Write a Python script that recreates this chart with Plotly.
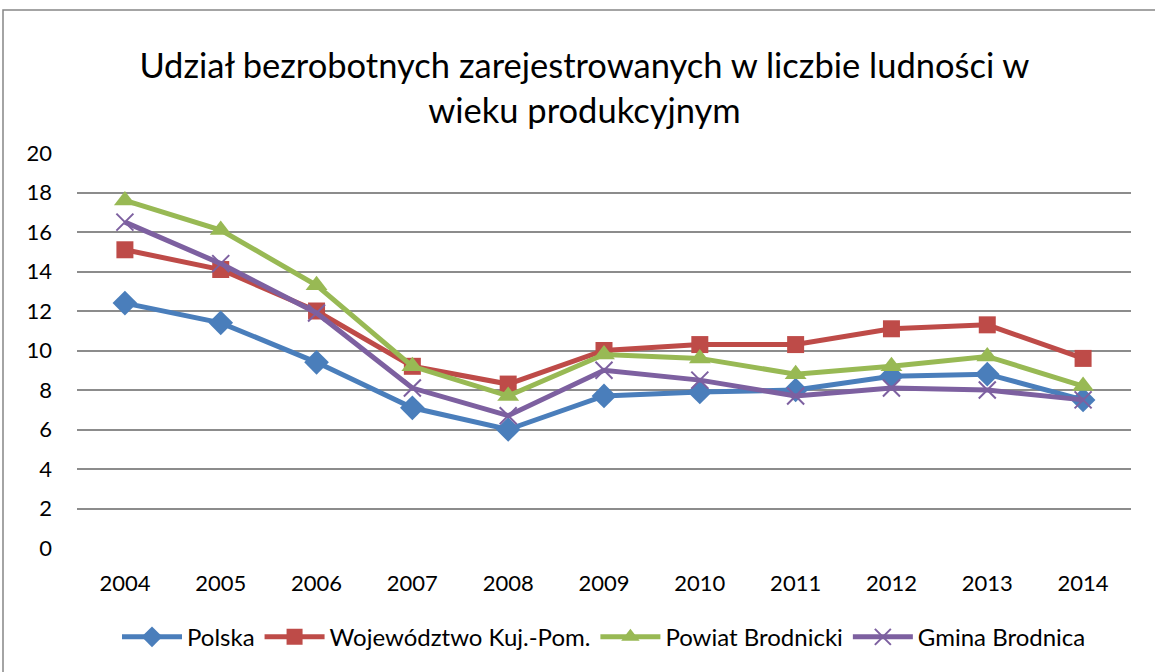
import plotly.graph_objects as go

years = [2004, 2005, 2006, 2007, 2008, 2009, 2010, 2011, 2012, 2013, 2014]
polska = [12.4, 11.4, 9.4, 7.1, 6.0, 7.7, 7.9, 8.0, 8.7, 8.8, 7.5]
wojewodztwo = [15.1, 14.1, 12.0, 9.2, 8.3, 10.0, 10.3, 10.3, 11.1, 11.3, 9.6]
powiat = [17.6, 16.1, 13.3, 9.2, 7.7, 9.8, 9.6, 8.8, 9.2, 9.7, 8.2]
gmina = [16.5, 14.4, 11.9, 8.1, 6.7, 9.0, 8.5, 7.7, 8.1, 8.0, 7.5]

series = [
    ("Polska", polska, "#4A7EBB", "diamond", 19),
    ("Województwo Kuj.-Pom.", wojewodztwo, "#BE4B48", "square", 17),
    ("Powiat Brodnicki", powiat, "#98B954", "triangle-up", 19),
    ("Gmina Brodnica", gmina, "#7D60A0", "x-thin", 17),
]

fig = go.Figure()
for name, vals, color, sym, size in series:
    marker = dict(symbol=sym, size=size, color=color)
    if sym == "x-thin":
        marker["line"] = dict(color=color, width=2)
    fig.add_trace(go.Scatter(
        x=years, y=vals, name=name, mode="lines+markers",
        line=dict(color=color, width=5), marker=marker,
    ))

font = "Lato, 'Open Sans', sans-serif"
fig.update_layout(
    width=1155, height=672,
    margin=dict(l=77, r=24, t=153, b=121),
    paper_bgcolor="white", plot_bgcolor="white",
    title=dict(
        text="Udział bezrobotnych zarejestrowanych w liczbie ludności w<br>wieku produkcyjnym",
        x=0.506, xanchor="center", y=1 - 78 / 672, yanchor="middle",
        font=dict(family=font, size=34.5, color="black"),
    ),
    xaxis=dict(
        range=[2003.5, 2014.5], tickmode="array", tickvals=years,
        ticktext=[str(y) for y in years], showgrid=False, zeroline=False,
        showline=False, tickfont=dict(family=font, size=22, color="black"),
        ticks="", ticklen=0, ticklabelstandoff=20,
    ),
    yaxis=dict(
        range=[0, 20], tickmode="array", tickvals=list(range(0, 21, 2)),
        showgrid=True, gridcolor="#8C8C8C", gridwidth=1.5, zeroline=False,
        showline=False, tickfont=dict(family=font, size=22, color="black"),
        ticks="", ticklen=0, ticklabelstandoff=24,
    ),
    legend=dict(
        orientation="h", x=0.5, xanchor="center", y=-0.226, yanchor="middle",
        font=dict(family=font, size=24, color="black"), itemwidth=60,
        traceorder="normal",
    ),
    showlegend=True,
)
fig.add_shape(type="rect", xref="paper", yref="paper",
              x0=(3 - 77) / 1054, x1=1.05, y0=-0.35, y1=(551 - 9) / 398,
              line=dict(color="#868686", width=1.5), layer="below")

fig.write_html("out.html", config={"displayModeBar": False},
               post_script="document.body.style.margin='0';")
